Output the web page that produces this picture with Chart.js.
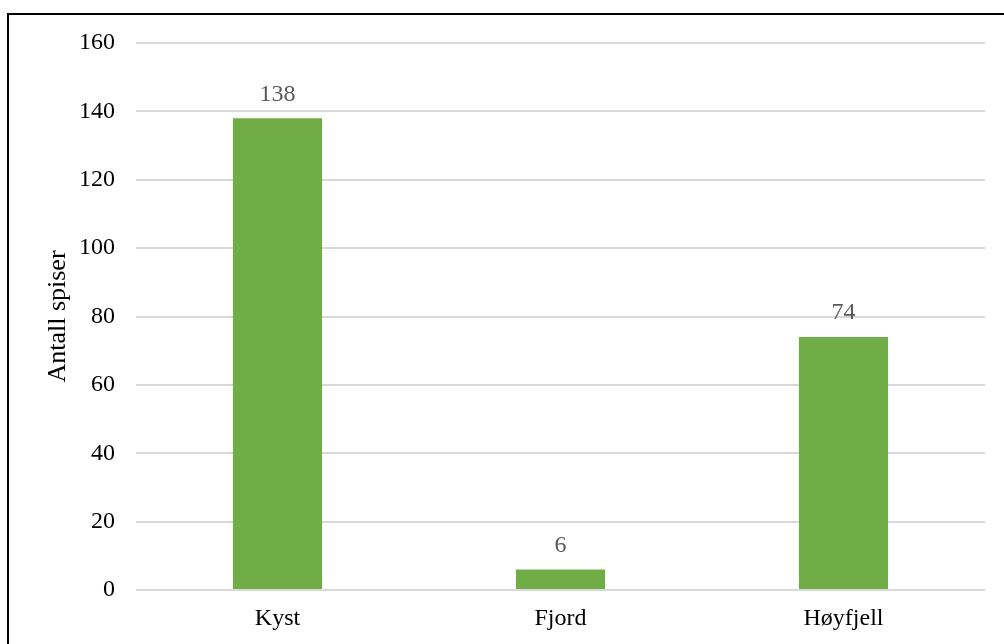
<!DOCTYPE html>
<html>
<head>
<meta charset="utf-8">
<script src="https://cdn.jsdelivr.net/npm/chart.js@4/dist/chart.umd.min.js"></script>
<style>
  html, body { margin: 0; padding: 0; background: #ffffff; }
  #wrap { position: relative; width: 1004px; height: 644px; }
  canvas { display: block; }
</style>
</head>
<body>
<div id="wrap"><canvas id="c" width="1004" height="644"></canvas></div>
<script>
// Antall spiser per område
const categories = ['Kyst', 'Fjord', 'Høyfjell'];
const counts = [138, 6, 74];
const yTicks = [0, 20, 40, 60, 80, 100, 120, 140, 160];

const serif = "'Liberation Serif', 'Times New Roman', serif";

// Outer frame (top and left edges visible)
const framePlugin = {
  id: 'frame',
  beforeDraw(chart) {
    const ctx = chart.ctx;
    ctx.save();
    ctx.fillStyle = '#ffffff';
    ctx.fillRect(0, 0, chart.width, chart.height);
    ctx.strokeStyle = '#000000';
    ctx.lineWidth = 2;
    ctx.beginPath();
    ctx.moveTo(8, chart.height);
    ctx.lineTo(8, 14);
    ctx.lineTo(chart.width, 14);
    ctx.stroke();
    ctx.restore();
  }
};

// Value labels above each bar
const valueLabels = {
  id: 'valueLabels',
  afterDatasetsDraw(chart) {
    const ctx = chart.ctx;
    ctx.save();
    ctx.font = '24px ' + serif;
    ctx.fillStyle = '#595959';
    ctx.textAlign = 'center';
    ctx.textBaseline = 'middle';
    chart.data.datasets.forEach((ds, i) => {
      chart.getDatasetMeta(i).data.forEach((bar, j) => {
        ctx.fillText(String(ds.data[j]), bar.x, bar.y - 24);
      });
    });
    ctx.restore();
  }
};

new Chart(document.getElementById('c'), {
  type: 'bar',
  data: {
    labels: categories,
    datasets: [{
      data: counts,
      backgroundColor: '#70AD47',
      borderWidth: 0,
      categoryPercentage: 1,
      barPercentage: 0.315
    }]
  },
  options: {
    responsive: false,
    animation: false,
    devicePixelRatio: 1,
    layout: { padding: { left: 0, right: 19, top: 43, bottom: 0 } },
    plugins: {
      legend: { display: false },
      tooltip: { enabled: false }
    },
    scales: {
      x: {
        grid: { display: false, drawTicks: false },
        border: { display: false },
        ticks: {
          color: '#000000',
          font: { family: serif, size: 24 },
          padding: 14
        },
        afterFit(scale) { scale.height = 54; }
      },
      y: {
        min: 0,
        max: 160,
        afterBuildTicks(scale) { scale.ticks = yTicks.map(v => ({ value: v })); },
        grid: { color: '#d9d9d9', lineWidth: 2, drawTicks: false },
        border: { display: false },
        ticks: {
          color: '#000000',
          font: { family: serif, size: 24 },
          padding: 21
        },
        title: {
          display: true,
          text: 'Antall spiser',
          color: '#000000',
          font: { family: serif, size: 26 },
          padding: { top: 43, bottom: 0 }
        },
        afterFit(scale) { scale.width = 136; }
      }
    }
  },
  plugins: [framePlugin, valueLabels]
});
</script>
</body>
</html>
